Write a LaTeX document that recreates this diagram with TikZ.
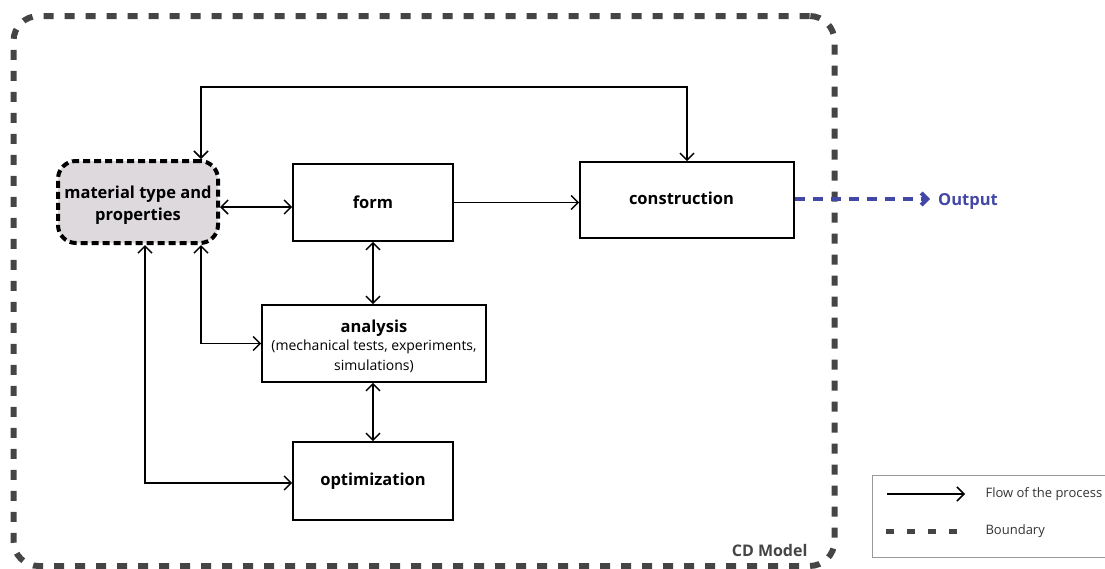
\documentclass[tikz,border=0pt]{standalone}
\usepackage{fontspec}
\setmainfont{Open Sans}
\usetikzlibrary{arrows.meta,calc}
\definecolor{bnd}{HTML}{454545}
\definecolor{matfill}{HTML}{DDD9DD}
\definecolor{outblue}{HTML}{4347A6}
\newcommand\subfnt{\mdseries\fontsize{14}{19.5}\selectfont}
\begin{document}
\begin{tikzpicture}[x=1pt,y=-1pt,
  box/.style={draw, line width=1.6pt, inner sep=0pt, align=center,
    font=\bfseries\fontsize{16.5}{20}\selectfont},
  flow/.style={line width=1.5pt, arrows={Straight Barb[length=7pt,width=14pt]-Straight Barb[length=7pt,width=14pt]}},
  flowone/.style={line width=1.5pt, -{Straight Barb[length=7pt,width=14pt]}},
  boundary/.style={draw=bnd, line width=6pt, dash pattern=on 10pt off 11pt, rounded corners=25pt},
  legtext/.style={anchor=west, font=\fontsize{13}{16}\selectfont, text=black!80}]
\useasboundingbox (0,0) rectangle (1105,568);

% boundary
\node[boundary, minimum width=821pt, minimum height=550pt, inner sep=0pt] (cd) at (424,291) {};
\node[anchor=east, text=bnd, font=\bfseries\fontsize{16}{18}\selectfont] (cdl) at (811,550) {CD Model};

% nodes
\node[box, draw=black, line width=4pt, dash pattern=on 7pt off 4pt, rounded corners=18pt,
  fill=matfill, minimum width=160pt, minimum height=82pt, font=\bfseries\fontsize{16.5}{22}\selectfont]
  (mat) at (138,202) {\rule{0pt}{18pt}material type and\\properties};
\node[box, minimum width=160pt, minimum height=77pt] (form) at (373,202.5) {form};
\node[box, minimum width=214pt, minimum height=76pt, text depth=4pt] (cons) at (687,200) {construction\hspace*{11pt}};
\node[box, minimum width=224pt, minimum height=77pt] (ana) at (374,343.5)
  {\rule{0pt}{18pt}analysis\\[-2pt]\subfnt (mechanical tests, experiments,\\\subfnt simulations)};
\node[box, minimum width=160pt, minimum height=78pt] (opt) at (373,481) {optimization};

% connectors
\draw[flow] ([xshift=63pt]mat.north) -- ++(0,-72) -| (cons.north);
\draw[flow] ([yshift=-5pt]mat.east) -- ([yshift=-5pt]mat.east -| form.west);
\draw[flowone] (form.east) -- (form.east -| cons.west);
\draw[flow] (form.south) -- (form.south |- ana.north);
\draw[flow] ([xshift=63pt]mat.south) |- (ana.west);
\draw[flow] ([xshift=7pt]mat.south) |- ([yshift=-2pt]opt.west);
\draw[flow] (ana.south -| opt.north) -- (opt.north);

% output
\node[anchor=west, text=outblue, font=\bfseries\fontsize{16.5}{19}\selectfont, inner sep=0pt] (out) at (938,201) {Output};
\coordinate (oarr) at (930,199);
\draw[outblue, line width=4pt, dash pattern=on 10pt off 8pt,
  -{Straight Barb[length=6pt,width=12pt]}] ([yshift=1pt]cons.east) -- (oarr);

% legend
\node[draw=gray!80, line width=1pt, minimum width=240pt, minimum height=82pt, anchor=north west, inner sep=0pt] (leg) at (872,475) {};
\coordinate (l1a) at (887,494);
\coordinate (l1b) at (965,494);
\draw[flowone] (l1a) -- (l1b);
\node[legtext] (lt1) at (982,494) {Flow of the process};
\coordinate (l2a) at (886,531);
\coordinate (l2b) at (960,531);
\draw[bnd, line width=5pt, dash pattern=on 8pt off 13pt] (l2a) -- (l2b);
\node[legtext] (lt2) at (982,531) {Boundary};
\end{tikzpicture}
\end{document}
